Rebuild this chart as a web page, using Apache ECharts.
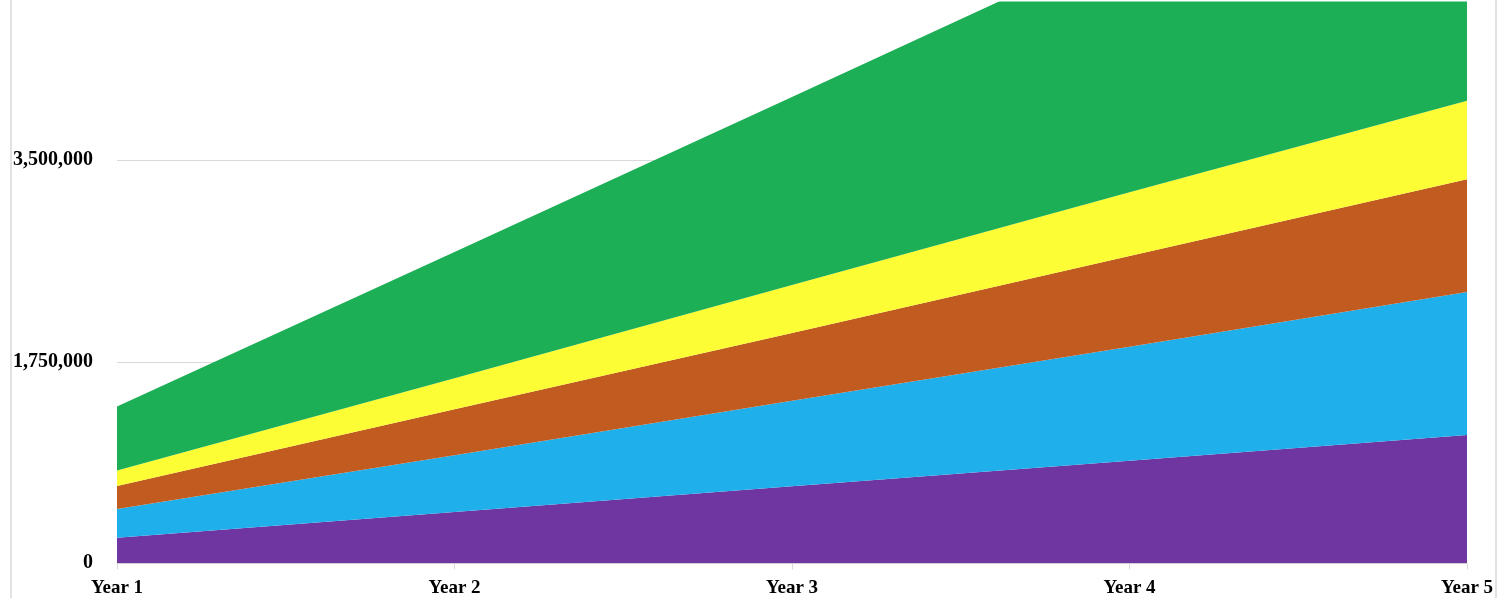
<!DOCTYPE html>
<html>
<head>
<meta charset="utf-8">
<script src="https://cdn.jsdelivr.net/npm/echarts@6/dist/echarts.min.js"></script>
<style>
  html, body { margin: 0; padding: 0; background: #ffffff; }
  #chart { position: absolute; left: 0; top: 0; width: 1503px; height: 598px; }
  #frame { position: absolute; left: 10px; top: 0; width: 1483px; height: 598px;
           border-left: 2px solid #e2e2e2; border-right: 2px solid #e2e2e2; pointer-events: none; }
</style>
</head>
<body>
<div id="chart"></div>
<div id="frame"></div>
<script>
// Categories along the x axis
const years = ['Year 1', 'Year 2', 'Year 3', 'Year 4', 'Year 5'];

// Stacked series, bottom layer first
const purpleValues = [222000, 445000, 669000, 891000, 1114000];
const blueValues   = [250000, 493000, 743000, 990000, 1242000];
const orangeValues = [200000, 399000, 588000, 788000, 979000];
const yellowValues = [133000, 270000, 417000, 553000, 683000];
const greenValues  = [556000, 1096000, 1633000, 2180000, 2720000];

// Value axis: labelled steps and visible ceiling
const yStep = 1750000;
const yTop = 4880000;

const layers = [
  { name: 'Purple', data: purpleValues, color: '#6f35a0' },
  { name: 'Blue',   data: blueValues,   color: '#1fb0ec' },
  { name: 'Orange', data: orangeValues, color: '#c25b20' },
  { name: 'Yellow', data: yellowValues, color: '#fdfd35' },
  { name: 'Green',  data: greenValues,  color: '#1caf55' }
];

const labelFont = { fontFamily: '"Liberation Serif", "Times New Roman", serif', fontWeight: 'bold', color: '#000' };

const chart = echarts.init(document.getElementById('chart'), null, { renderer: 'canvas' });
chart.setOption({
  animation: false,
  backgroundColor: '#ffffff',
  grid: { left: 117, right: 36, top: 1.4, bottom: 34.7, containLabel: false },
  xAxis: {
    type: 'category',
    data: years,
    boundaryGap: false,
    axisLine: { show: true, lineStyle: { color: '#d9d9d9', width: 1 } },
    axisTick: { show: true, length: 6, lineStyle: { color: '#d9d9d9', width: 1 } },
    axisLabel: Object.assign({ fontSize: 19, margin: 15 }, labelFont),
    splitLine: { show: false }
  },
  yAxis: {
    type: 'value',
    min: 0,
    max: yTop,
    interval: yStep,
    axisLine: { show: false },
    axisTick: { show: false },
    axisLabel: Object.assign({
      fontSize: 20,
      margin: 24,
      padding: [4, 0, 0, 0],
      showMaxLabel: false,
      formatter: function (v) {
        if (v % yStep !== 0) return '';
        return v.toLocaleString('en-US');
      }
    }, labelFont),
    splitLine: { show: true, showMaxLine: false, lineStyle: { color: '#d9d9d9', width: 1 } }
  },
  series: layers.map(function (l) {
    return {
      name: l.name,
      type: 'line',
      stack: 'total',
      data: l.data,
      symbol: 'none',
      clip: true,
      lineStyle: { width: 0 },
      itemStyle: { color: l.color },
      areaStyle: { color: l.color, opacity: 1 }
    };
  })
});
</script>
</body>
</html>
